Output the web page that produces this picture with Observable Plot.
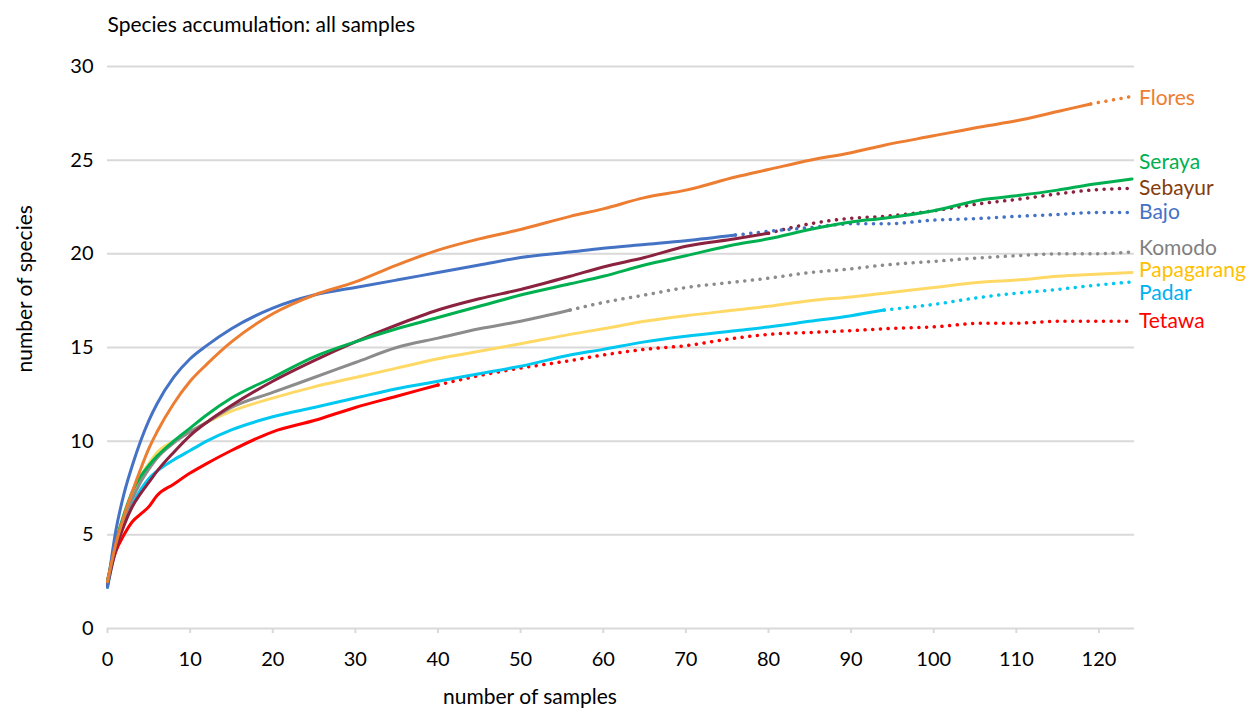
<!DOCTYPE html>
<html>
<head>
<meta charset="utf-8">
<script src="https://cdn.jsdelivr.net/npm/d3@7"></script>
<script src="https://cdn.jsdelivr.net/npm/@observablehq/plot@0.6"></script>
<style>
  html, body { margin: 0; padding: 0; background: #fff; }
  #chart { width: 1252px; height: 708px; }
</style>
</head>
<body>
<div id="chart"></div>
<script>
// ---- data ----
const xs = [0,1,2,3,4,5,6,8,10,12,15,20,25,30,35,40,45,50,56,60,65,70,76,80,85,90,94,100,106,110,115,119,124];

const sites      = ["Tetawa","Padar","Papagarang","Komodo","Sebayur","Seraya","Bajo","Flores"];
const solidUntil = [40, 94, 124, 56, 80, 124, 76, 119];
const labelY     = [16.4, 17.9, 19.1, 20.3, 23.5, 24.9, 22.2, 28.3];
const lineColors = ["#FF0000","#00C8F0","#FFD966","#8C8C8C","#8B2240","#00B050","#4472C4","#ED7D31"];
const textColors = ["#FF0000","#00B0F0","#FFC000","#7F7F7F","#843C0C","#00B050","#4472C4","#ED7D31"];

const tetawa     = [2.6,4.1,5.0,5.7,6.1,6.5,7.1,7.7,8.3,8.8,9.5,10.5,11.1,11.8,12.4,13.0,13.5,13.9,14.3,14.6,14.9,15.1,15.5,15.7,15.8,15.9,16.0,16.1,16.3,16.3,16.4,16.4,16.4];
const padar      = [2.2,4.3,5.6,6.6,7.4,8.0,8.4,9.0,9.5,10.0,10.6,11.3,11.8,12.3,12.8,13.2,13.6,14.0,14.6,14.9,15.3,15.6,15.9,16.1,16.4,16.7,17.0,17.3,17.7,17.9,18.1,18.3,18.5];
const papagarang = [2.5,4.6,6.0,7.2,8.1,8.8,9.4,10.0,10.5,11.0,11.6,12.3,12.9,13.4,13.9,14.4,14.8,15.2,15.7,16.0,16.4,16.7,17.0,17.2,17.5,17.7,17.9,18.2,18.5,18.6,18.8,18.9,19.0];
const komodo     = [2.5,4.5,5.8,6.9,7.8,8.5,9.1,9.9,10.5,11.0,11.8,12.6,13.4,14.2,15.0,15.5,16.0,16.4,17.0,17.4,17.8,18.2,18.5,18.7,19.0,19.2,19.4,19.6,19.8,19.9,20.0,20.0,20.1];
const sebayur    = [2.3,4.2,5.5,6.5,7.2,7.8,8.4,9.4,10.3,11.0,11.9,13.2,14.3,15.3,16.2,17.0,17.6,18.1,18.8,19.3,19.8,20.4,20.8,21.1,21.6,21.9,22.0,22.3,22.7,22.9,23.2,23.4,23.5];
const seraya     = [2.5,4.6,6.1,7.3,8.1,8.7,9.2,10.0,10.7,11.4,12.3,13.4,14.5,15.3,16.0,16.6,17.2,17.8,18.4,18.8,19.4,19.9,20.5,20.8,21.3,21.7,21.9,22.3,22.9,23.1,23.4,23.7,24.0];
const bajo       = [2.2,5.2,7.2,8.7,10.0,11.1,12.0,13.4,14.4,15.1,16.0,17.1,17.8,18.2,18.6,19.0,19.4,19.8,20.1,20.3,20.5,20.7,21.0,21.2,21.4,21.6,21.6,21.8,21.9,22.0,22.1,22.2,22.2];
const flores     = [2.5,4.5,6.0,7.3,8.5,9.6,10.5,12.0,13.2,14.1,15.3,16.8,17.8,18.5,19.4,20.2,20.8,21.3,22.0,22.4,23.0,23.4,24.1,24.5,25.0,25.4,25.8,26.3,26.8,27.1,27.6,28.0,28.4];
const seriesValues = [tetawa, padar, papagarang, komodo, sebayur, seraya, bajo, flores];

const yTicks = [0,5,10,15,20,25,30];
const xTicks = [0,10,20,30,40,50,60,70,80,90,100,110,120];

const title  = "Species accumulation: all samples";
const xLabel = "number of samples";
const yLabel = "number of species";

// ---- build tables ----
const solidRows = [], dottedRows = [];
sites.forEach((s, i) => {
  xs.forEach((x, j) => {
    const row = {site: s, x, y: seriesValues[i][j]};
    if (x <= solidUntil[i]) solidRows.push(row);
    if (x >= solidUntil[i]) dottedRows.push(row);
  });
});
const labels = sites.map((s, i) => ({site: s, y: labelY[i], x: d3.max(xs)}));

const FONT = "Lato, 'Open Sans', sans-serif";

const chart = Plot.plot({
  width: 1252,
  height: 708,
  marginLeft: 107,
  marginRight: 118,
  marginTop: 66,
  marginBottom: 80,
  style: {fontFamily: FONT, fontSize: "20px", color: "#000", background: "#fff", overflow: "visible"},
  x: {domain: [0, 124.3], ticks: xTicks},
  y: {domain: [0, 30], ticks: yTicks},
  color: {domain: sites, range: lineColors},
  marks: [
    Plot.gridY(yTicks, {stroke: "#d9d9d9", strokeOpacity: 1, strokeWidth: 2}),
    Plot.axisX({ticks: xTicks, tickSize: 5, stroke: "#d9d9d9", strokeWidth: 2, strokeOpacity: 1, tickPadding: 18, label: null, fontSize: "20px", fill: "#000"}),
    Plot.axisY({ticks: yTicks, tickSize: 0, tickPadding: 14, label: null, fontSize: "20px", fill: "#000"}),
    Plot.line(dottedRows, {x: "x", y: "y", z: "site", stroke: "site", strokeWidth: 3.5,
      strokeDasharray: "0.1,7.6", strokeLinecap: "round", curve: "monotone-x"}),
    Plot.line(solidRows, {x: "x", y: "y", z: "site", stroke: "site", strokeWidth: 3,
      strokeLinejoin: "round", curve: "monotone-x"}),
    Plot.text(labels, {x: "x", y: "y", text: "site", fill: (d, i) => textColors[i],
      textAnchor: "start", dx: 7, fontSize: 21}),
    Plot.text([title], {frameAnchor: "top-left", text: d => d, textAnchor: "start", lineAnchor: "middle",
      dy: -41, fontSize: 21, fill: "#000"}),
    Plot.text([xLabel], {frameAnchor: "bottom", text: d => d, lineAnchor: "middle", dy: 69, dx: -91, fontSize: 21, fill: "#000"}),
    Plot.text([yLabel], {frameAnchor: "left", text: d => d, rotate: -90, dx: -82, dy: 25, fontSize: 21, fill: "#000"})
  ]
});
document.getElementById("chart").appendChild(chart);
</script>
</body>
</html>
